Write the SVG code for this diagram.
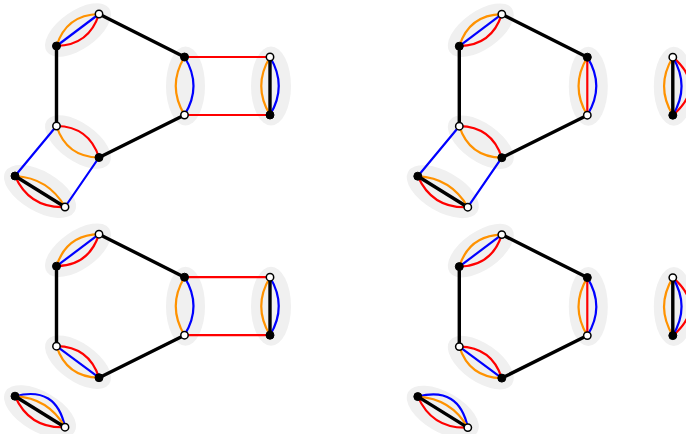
<svg xmlns="http://www.w3.org/2000/svg" width="686" height="434" viewBox="0 0 686 434">
<style>
.blob{fill:#f0f0f0;stroke:none}
path{fill:none}
.o{stroke:#ff9200;stroke-width:2.2}
.r{stroke:#ff0000;stroke-width:2.2}
.u{stroke:#0000ff;stroke-width:2.2}
.k{stroke:#000;stroke-width:3.4}
.bn{fill:#000;stroke:#000;stroke-width:1}
.wn{fill:#fff;stroke:#000;stroke-width:1.5}
</style>
<defs>
<ellipse id="bab" class="blob" cx="78" cy="30" rx="38" ry="19" transform="rotate(-35 78 30)"/>
<ellipse id="bcd" class="blob" cx="78" cy="142" rx="38" ry="19" transform="rotate(35 78 142)"/>
<ellipse id="bij" class="blob" cx="40" cy="191.5" rx="40" ry="20" transform="rotate(30 40 191.5)"/>
<ellipse id="bef" class="blob" cx="185.5" cy="86" rx="19.5" ry="39.5"/>
<ellipse id="bgh" class="blob" cx="271" cy="86" rx="20" ry="39.5"/>
<g id="hex"><path class="k" d="M99 14L184.5 57M56.5 46V126M99 157.5L184.5 115"/></g>
<g id="ab"><path class="o" d="M56.5 46Q66.35 14.8 99 14"/><path class="r" d="M56.5 46Q89.15 45.2 99 14"/><path class="u" d="M56.5 46L99 14"/></g>
<path id="cdo" class="o" d="M56.5 126Q66.45 157 99 157.5"/>
<path id="cdr" class="r" d="M56.5 126Q89.05 126.5 99 157.5"/>
<path id="cdu" class="u" d="M56.5 126L99 157.5"/>
<g id="ij"><path class="o" d="M15 176Q48.4 177.9 65 207"/><path class="r" d="M15 176Q29.5 208.5 65 207"/><path class="k" d="M15 176L65 207"/></g>
<path id="iju" class="u" d="M15 176Q56.3 165.2 65 207"/>
<g id="ef"><path class="o" d="M184.5 57Q167 86 184.5 115"/><path class="u" d="M184.5 57Q202.5 86 184.5 115"/></g>
<path id="efr" class="r" d="M184.5 57V115"/>
<g id="gh"><path class="o" d="M270 57Q252.5 86 270 115"/><path class="u" d="M270 57Q287.5 86 270 115"/><path class="k" d="M270 57V115"/></g>
<path id="ghr" class="r" d="M270 57Q304 86 270 115"/>
<path id="hr" class="r" d="M184.5 57H270M184.5 115H270"/>
<path id="bl" class="u" d="M56.5 126L15 176M99 157.5L65 207"/>
</defs>

<g id="blobs">
<g><use href="#bab"/><use href="#bcd"/><use href="#bij"/><use href="#bef"/><use href="#bgh"/></g>
<g transform="translate(402.8 0.2)"><use href="#bab"/><use href="#bcd"/><use href="#bij"/><use href="#bef"/><use href="#bgh"/></g>
<g transform="translate(0 220.2)"><use href="#bab"/><use href="#bcd"/><use href="#bij"/><use href="#bef"/><use href="#bgh"/></g>
<g transform="translate(402.8 220.6)"><use href="#bab"/><use href="#bcd"/><use href="#bij"/><use href="#bef"/><use href="#bgh"/></g>
</g>

<g id="connectors">
<g id="edges-a"><use href="#hr"/><use href="#bl"/><use href="#ab"/><use href="#cdo"/><use href="#cdr"/><use href="#ij"/><use href="#ef"/><use href="#gh"/><use href="#hex"/></g>
<g id="edges-b" transform="translate(402.8 0.2)"><use href="#bl"/><use href="#ab"/><use href="#cdo"/><use href="#cdr"/><use href="#ij"/><use href="#ef"/><use href="#efr"/><use href="#ghr"/><use href="#gh"/><use href="#hex"/></g>
<g id="edges-c" transform="translate(0 220.2)"><use href="#hr"/><use href="#ab"/><use href="#cdo"/><use href="#cdr"/><use href="#cdu"/><use href="#iju"/><use href="#ij"/><use href="#ef"/><use href="#gh"/><use href="#hex"/></g>
<g id="edges-d" transform="translate(402.8 220.6)"><use href="#ab"/><use href="#cdo"/><use href="#cdr"/><use href="#cdu"/><use href="#iju"/><use href="#ij"/><use href="#ef"/><use href="#efr"/><use href="#ghr"/><use href="#gh"/><use href="#hex"/></g>
</g>

<g id="panel-a">
<g id="a1"><circle class="wn" cx="99" cy="14" r="3.7"/></g>
<g id="a2"><circle class="bn" cx="56.5" cy="46" r="4"/></g>
<g id="a3"><circle class="wn" cx="56.5" cy="126" r="3.7"/></g>
<g id="a4"><circle class="bn" cx="99" cy="157.5" r="4"/></g>
<g id="a5"><circle class="bn" cx="184.5" cy="57" r="4"/></g>
<g id="a6"><circle class="wn" cx="184.5" cy="115" r="3.7"/></g>
<g id="a7"><circle class="wn" cx="270" cy="57" r="3.7"/></g>
<g id="a8"><circle class="bn" cx="270" cy="115" r="4"/></g>
<g id="a9"><circle class="bn" cx="15" cy="176" r="4"/></g>
<g id="a10"><circle class="wn" cx="65" cy="207" r="3.7"/></g>
</g>
<g id="panel-b" transform="translate(402.8 0.2)">
<g id="b1"><circle class="wn" cx="99" cy="14" r="3.7"/></g>
<g id="b2"><circle class="bn" cx="56.5" cy="46" r="4"/></g>
<g id="b3"><circle class="wn" cx="56.5" cy="126" r="3.7"/></g>
<g id="b4"><circle class="bn" cx="99" cy="157.5" r="4"/></g>
<g id="b5"><circle class="bn" cx="184.5" cy="57" r="4"/></g>
<g id="b6"><circle class="wn" cx="184.5" cy="115" r="3.7"/></g>
<g id="b7"><circle class="wn" cx="270" cy="57" r="3.7"/></g>
<g id="b8"><circle class="bn" cx="270" cy="115" r="4"/></g>
<g id="b9"><circle class="bn" cx="15" cy="176" r="4"/></g>
<g id="b10"><circle class="wn" cx="65" cy="207" r="3.7"/></g>
</g>
<g id="panel-c" transform="translate(0 220.2)">
<g id="c1"><circle class="wn" cx="99" cy="14" r="3.7"/></g>
<g id="c2"><circle class="bn" cx="56.5" cy="46" r="4"/></g>
<g id="c3"><circle class="wn" cx="56.5" cy="126" r="3.7"/></g>
<g id="c4"><circle class="bn" cx="99" cy="157.5" r="4"/></g>
<g id="c5"><circle class="bn" cx="184.5" cy="57" r="4"/></g>
<g id="c6"><circle class="wn" cx="184.5" cy="115" r="3.7"/></g>
<g id="c7"><circle class="wn" cx="270" cy="57" r="3.7"/></g>
<g id="c8"><circle class="bn" cx="270" cy="115" r="4"/></g>
<g id="c9"><circle class="bn" cx="15" cy="176" r="4"/></g>
<g id="c10"><circle class="wn" cx="65" cy="207" r="3.7"/></g>
</g>
<g id="panel-d" transform="translate(402.8 220.6)">
<g id="d1"><circle class="wn" cx="99" cy="14" r="3.7"/></g>
<g id="d2"><circle class="bn" cx="56.5" cy="46" r="4"/></g>
<g id="d3"><circle class="wn" cx="56.5" cy="126" r="3.7"/></g>
<g id="d4"><circle class="bn" cx="99" cy="157.5" r="4"/></g>
<g id="d5"><circle class="bn" cx="184.5" cy="57" r="4"/></g>
<g id="d6"><circle class="wn" cx="184.5" cy="115" r="3.7"/></g>
<g id="d7"><circle class="wn" cx="270" cy="57" r="3.7"/></g>
<g id="d8"><circle class="bn" cx="270" cy="115" r="4"/></g>
<g id="d9"><circle class="bn" cx="15" cy="176" r="4"/></g>
<g id="d10"><circle class="wn" cx="65" cy="207" r="3.7"/></g>
</g>
</svg>
